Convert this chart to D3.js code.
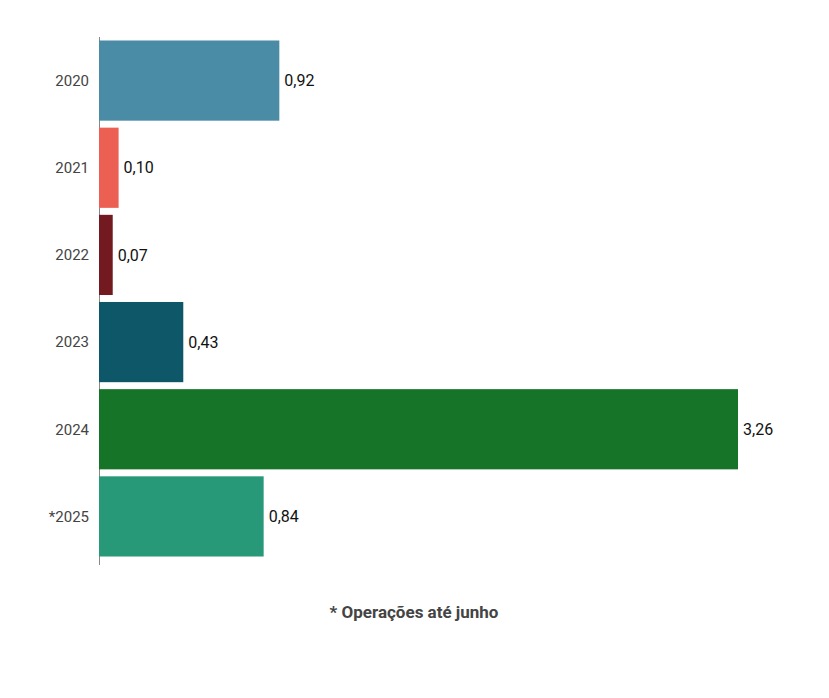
<!DOCTYPE html>
<html><head><meta charset="utf-8">
<script src="https://cdn.jsdelivr.net/npm/d3@7"></script>
<style>body{margin:0;background:#fff;font-family:Roboto,sans-serif;}</style>
</head><body>
<svg id="c" width="829" height="698"></svg>
<script>
const categories = ["2020","2021","2022","2023","2024","*2025"];
const values = [0.92,0.10,0.07,0.43,3.26,0.84];
const valueLabels = ["0,92","0,10","0,07","0,43","3,26","0,84"];
const colors = ["#4a8ca6","#ec5f53","#731a20","#0d5769","#167429","#279878"];
const footnote = "* Operações até junho";

const svg = d3.select("#c");
const x = d3.scaleLinear().domain([0,3.26]).range([99,738]);
const y = d3.scaleBand().domain(categories).range([37,560]).paddingInner(0.08).paddingOuter(0.04);

svg.append("line").attr("x1",99.5).attr("x2",99.5).attr("y1",37).attr("y2",565).attr("stroke","#888").attr("stroke-width",1);

svg.selectAll("rect.b").data(values).join("rect")
  .attr("x",x(0)).attr("y",(d,i)=>y(categories[i]))
  .attr("width",d=>x(d)-x(0)).attr("height",y.bandwidth())
  .attr("fill",(d,i)=>colors[i]);

svg.selectAll("text.v").data(values).join("text")
  .attr("x",d=>x(d)+5).attr("y",(d,i)=>y(categories[i])+y.bandwidth()/2)
  .attr("dy","0.35em").attr("font-size",16).attr("fill","#111")
  .text((d,i)=>valueLabels[i]);

svg.selectAll("text.c").data(categories).join("text")
  .attr("x",89).attr("y",d=>y(d)+y.bandwidth()/2)
  .attr("dy","0.35em").attr("text-anchor","end").attr("font-size",15).attr("fill","#444")
  .text(d=>d);

svg.append("text").attr("x",414).attr("y",618).attr("text-anchor","middle")
  .attr("font-size",17).attr("font-weight","bold").attr("fill","#444").text(footnote);
</script>
</body></html>
